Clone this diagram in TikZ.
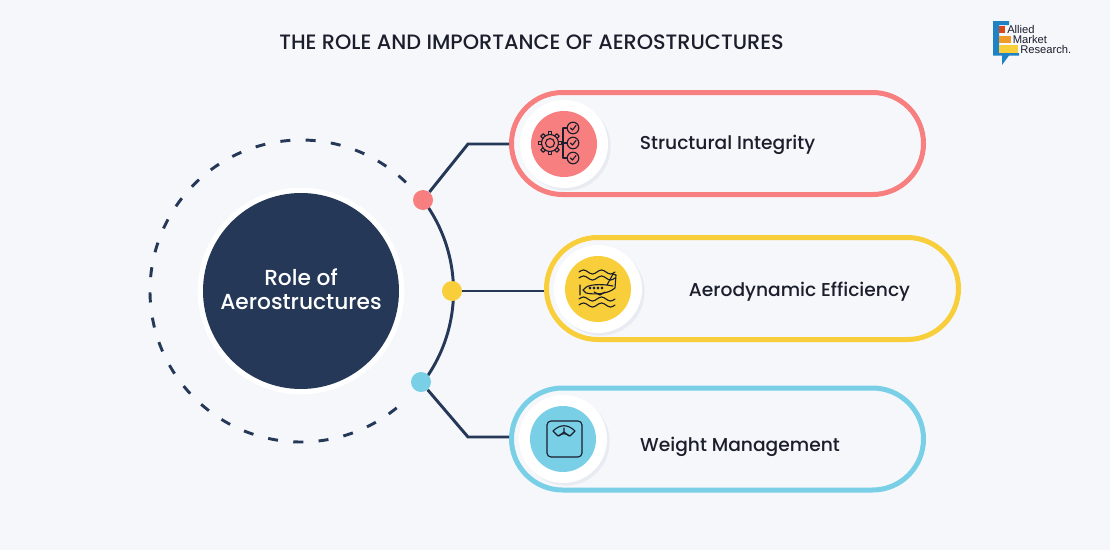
\documentclass[tikz,border=0pt]{standalone}
\usepackage{fontspec}
\setmainfont{Poppins}
\newfontfamily\medfont{Poppins Medium}
\newfontfamily\logofont{Liberation Sans}
\usetikzlibrary{calc, shadows, shapes.misc}
\definecolor{navy}{HTML}{253858}
\definecolor{redc}{HTML}{F77F7F}
\definecolor{yellowc}{HTML}{F9CE3B}
\definecolor{bluec}{HTML}{79CFE6}
\definecolor{bgc}{HTML}{F5F7FB}
\definecolor{inkc}{HTML}{1B1E2B}
\definecolor{logoblue}{HTML}{1F82C4}
\definecolor{logored}{HTML}{D9481C}
\definecolor{logoorange}{HTML}{F09A28}
\tikzset{
  pill/.style={rounded rectangle, draw=#1, line width=3.75pt, minimum width=309pt, minimum height=76.5pt, inner sep=0pt},
  dot/.style={circle, fill=#1, minimum size=15pt, inner sep=0pt},
  ring/.style={circle, fill=white, minimum size=66pt, inner sep=0pt, drop shadow={shadow xshift=2pt, shadow yshift=-2pt, opacity=.06, fill=navy}},
  disc/.style={circle, fill=#1, minimum size=49.5pt, inner sep=0pt},
  label/.style={font=\medfont\fontsize{14}{17}\selectfont, text=inkc, inner sep=0pt},
  wire/.style={draw=navy, line width=2.2pt},
  icon/.style={draw=inkc, line width=.85pt, line cap=round, line join=round},
  logotext/.style={font=\logofont\fontsize{8.4}{10}\selectfont, text=inkc, inner sep=0pt, anchor=west}
}
\newcommand{\wave}[2]{\draw[icon] (#1,#2) sin ++(4.5,-2) cos ++(4.5,2) sin ++(4.5,2) cos ++(4.5,-2) sin ++(4.5,-2) cos ++(4.5,2) sin ++(4.5,2) cos ++(4.5,-2);}
\begin{document}
\begin{tikzpicture}[x=0.75pt,y=-0.75pt]
\fill[bgc] (0,0) rectangle (1110,550);
\useasboundingbox (0,0) rectangle (1110,550);
% Title
\node[font=\medfont\fontsize{15.6}{18}\selectfont, text=inkc, inner sep=0pt] (title) at (531.5,42) {THE ROLE AND IMPORTANCE OF AEROSTRUCTURES};
% Logo
\fill[logoblue] (993,21) -- (1009,21) -- (1009,25) -- (999,25) -- (999,53) -- (1019,53) -- (1019,55.5) -- (1009,55.5) -- (1002,65) -- (1002,55.5) -- (993,55.5) -- cycle;
\fill[logored] (999,26) rectangle (1005,33);
\fill[logoorange] (999,36) rectangle (1011,43);
\fill[yellowc] (999,45) rectangle (1018,53);
\node[logotext] (allied) at (1007,29.5) {Allied};
\node[logotext] (market) at (1012.5,39.5) {Market};
\node[logotext] (research) at (1020,49.5) {Research.};
% Centre
\coordinate (origin) at (301,291);
\draw[navy, line width=2.2pt, dash pattern=on 7.5pt off 11.5pt] (origin) ++(-46:151) arc [start angle=-46, end angle=-314, radius=151];
\draw[wire] (423,200) arc [start angle=-37, end angle=37, radius=151.5];
\node[circle, fill=white, minimum size=155pt, inner sep=0pt] (halo) at (origin) {};
\node[circle, fill=navy, minimum size=147pt, inner sep=0pt, text=white, align=center] (role) at (origin) {};
\node[text=white, align=center, inner sep=0pt, font=\medfont\fontsize{16.3}{18}\selectfont] (rolelabel) at (301,289) {Role of\\Aerostructures};
% Pills
\node[pill=redc] (redpill) at (717.5,143.5) {};
\node[pill=yellowc] (yellowpill) at (752.5,288.5) {};
\node[pill=bluec] (bluepill) at (717.5,439) {};
% Dots
\node[dot=redc] (reddot) at (423,200) {};
\node[dot=yellowc] (yellowdot) at (452,291) {};
\node[dot=bluec] (bluedot) at (421,382) {};
% Connectors
\coordinate (redbend) at (468,144);
\coordinate (bluebend) at (468,437);
\draw[wire] (reddot) -- (redbend) -- (redpill.west |- redbend);
\draw[wire] (yellowdot) -- (yellowpill.west |- yellowdot);
\draw[wire] (bluedot) -- (bluebend) -- (bluepill.west |- bluebend);
% Icon discs
\node[ring] (redring) at (564,144) {};
\node[disc=redc] (reddisc) at (564,144) {};
\node[ring] (yellowring) at (598,289) {};
\node[disc=yellowc] (yellowdisc) at (598,289) {};
\node[ring] (bluering) at (563,439) {};
\node[disc=bluec] (bluedisc) at (563,439) {};
% Labels
\node[label] (structural) at (727.5,145) {Structural Integrity};
\node[label] (aero) at (799.5,292) {Aerodynamic Efficiency};
\node[label] (weight) at (740,447) {Weight Management};
% Gear icon
\draw[icon] (550,143) circle [radius=4.5];
\draw[icon] (550,143) circle [radius=8.5];
\foreach \a in {0,45,...,315}
  \draw[icon] (550,143) ++(\a-12:8.5) -- ++(\a:3) -- ++(\a+90:3.5) -- ++(\a+180:3);
\draw[icon] (562,143) -- (567,143) (563,128) -- (563,158) (563,128) -- (567,128) (563,158) -- (567,158);
\foreach \y in {128,143,158} {
  \draw[icon] (573,\y) circle [radius=5.8];
  \draw[icon] (570.5,\y) -- (572.5,\y+2) -- (576,\y-2.5);
}
% Plane icon
\wave{579}{272}
\wave{579}{278}
\wave{579}{299}
\wave{579}{305}
\draw[icon] (583,290) .. controls (586,285) and (595,284) .. (607,285) -- (613,274) -- (616,275) -- (615,288) .. controls (608,294) and (595,295) .. (586,293) -- cycle;
\draw[icon] (580,285) -- (580,295) (607,285) -- (613,286);
\foreach \x in {590,594,598,602}
  \draw[icon] (\x,288) circle [radius=.9];
\draw[icon] (594,292) -- (600,295) -- (605,292);
% Scale icon
\draw[icon, rounded corners=3pt] (547,421) rectangle (582,457);
\draw[icon] (553,431) .. controls (560,424) and (568,424) .. (575,431) -- (570,436) .. controls (566,433) and (562,433) .. (558,436) -- cycle;
\draw[icon] (564,428) -- (564,432) (559,436) -- (564,432) -- (569,436);
\end{tikzpicture}
\end{document}
